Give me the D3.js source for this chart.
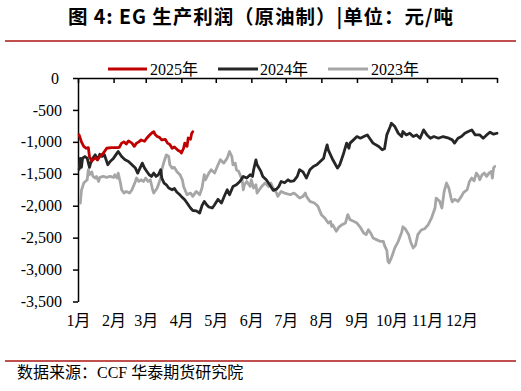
<!DOCTYPE html>
<html>
<head>
<meta charset="utf-8">
<script src="https://cdn.jsdelivr.net/npm/d3@7"></script>
<style>
  html, body { margin: 0; padding: 0; background: #fff; }
  svg { display: block; }
</style>
</head>
<body>
<svg id="chart" width="521" height="391"></svg>
<script>
// ---------------- DATA ----------------
const titleText = "图 4: EG 生产利润（原油制）|单位：元/吨";
const sourceText = "数据来源：CCF 华泰期货研究院";
const seriesNames = ["2025年", "2024年", "2023年"];
const monthLabels = ["1月","2月","3月","4月","5月","6月","7月","8月","9月","10月","11月","12月"];
const monthStartDays = [0, 31, 59, 90, 120, 151, 181, 212, 243, 273, 304, 334, 365];
const yTickValues = [0, -500, -1000, -1500, -2000, -2500, -3000, -3500];

// [day of year, 元/吨]
const data2025 = [[1,-890],[3,-1000],[5,-1070],[7,-1100],[9,-1090],[10,-1230],[12,-1300],[15,-1250],[17,-1280],[19,-1230],[22,-1180],[25,-1100],[29,-1090],[34,-1090],[36,-1085],[38,-1020],[40,-1000],[42,-1035],[44,-985],[47,-1020],[49,-1070],[51,-1020],[53,-1000],[55,-970],[58,-990],[60,-940],[62,-900],[64,-865],[66,-840],[67,-880],[69,-915],[71,-930],[73,-970],[76,-960],[78,-1020],[80,-1040],[82,-1100],[84,-1080],[87,-1130],[89,-1150],[90,-1175],[92,-1100],[93,-1020],[95,-1070],[96,-940],[98,-960],[99,-870],[100,-840]];

const data2024 = [[1,-1430],[2,-1260],[3,-1400],[4,-1255],[6,-1230],[8,-1255],[10,-1400],[11,-1333],[13,-1255],[15,-1203],[17,-1281],[19,-1193],[21,-1229],[23,-1203],[25,-1307],[26,-1359],[28,-1307],[31,-1255],[34,-1177],[35,-1151],[38,-1229],[41,-1281],[44,-1307],[47,-1359],[50,-1411],[52,-1489],[54,-1411],[56,-1333],[58,-1411],[60,-1463],[62,-1515],[64,-1541],[66,-1489],[68,-1541],[70,-1515],[72,-1437],[73,-1567],[75,-1645],[77,-1672],[79,-1723],[82,-1750],[84,-1730],[86,-1786],[88,-1817],[90,-1854],[93,-1906],[95,-1958],[98,-2036],[100,-2075],[103,-2080],[106,-2114],[108,-2000],[110,-1932],[112,-1984],[114,-2020],[117,-2036],[119,-1984],[122,-1900],[125,-1958],[128,-1828],[130,-1750],[132,-1828],[135,-1698],[138,-1672],[141,-1620],[144,-1541],[147,-1567],[150,-1515],[152,-1541],[153,-1437],[155,-1281],[156,-1359],[159,-1450],[161,-1541],[164,-1594],[167,-1672],[170,-1760],[173,-1740],[175,-1698],[177,-1620],[180,-1640],[183,-1594],[185,-1620],[188,-1610],[191,-1541],[193,-1437],[196,-1470],[199,-1567],[202,-1437],[205,-1385],[208,-1360],[211,-1307],[214,-1255],[215,-1177],[217,-1047],[218,-1125],[220,-1203],[222,-1281],[226,-1411],[228,-1359],[231,-1203],[234,-1020],[236,-1100],[237,-1020],[240,-969],[243,-917],[246,-943],[249,-917],[252,-891],[254,-943],[257,-1020],[262,-1073],[265,-1125],[267,-1109],[269,-891],[272,-760],[273,-708],[276,-760],[279,-865],[282,-917],[283,-838],[286,-891],[289,-865],[292,-917],[295,-891],[298,-943],[301,-813],[304,-891],[307,-943],[310,-917],[314,-943],[318,-917],[323,-943],[326,-969],[328,-1020],[331,-943],[334,-917],[337,-865],[340,-838],[343,-813],[346,-891],[350,-891],[353,-943],[356,-891],[359,-849],[362,-880],[365,-865]];

const data2023 = [[2,-1958],[3,-1760],[5,-1645],[8,-1594],[9,-1437],[10,-1515],[12,-1470],[13,-1541],[15,-1567],[16,-1541],[18,-1620],[19,-1557],[22,-1541],[25,-1557],[28,-1541],[31,-1557],[32,-1515],[34,-1567],[35,-1489],[37,-1645],[38,-1750],[40,-1802],[42,-1776],[45,-1802],[47,-1750],[50,-1620],[51,-1567],[53,-1620],[55,-1594],[57,-1620],[59,-1567],[61,-1620],[63,-1594],[65,-1750],[66,-1802],[69,-1723],[71,-1620],[72,-1567],[73,-1437],[75,-1307],[77,-1203],[79,-1229],[80,-1359],[82,-1411],[84,-1400],[86,-1463],[89,-1520],[91,-1600],[92,-1698],[95,-1828],[98,-1802],[100,-1854],[103,-1776],[106,-1828],[108,-1723],[110,-1515],[111,-1594],[114,-1489],[116,-1437],[119,-1489],[122,-1359],[124,-1281],[127,-1333],[130,-1255],[132,-1151],[134,-1229],[135,-1359],[137,-1333],[138,-1437],[140,-1463],[143,-1594],[144,-1750],[145,-1672],[147,-1620],[150,-1698],[151,-1594],[153,-1723],[155,-1672],[156,-1802],[158,-1750],[160,-1698],[163,-1645],[166,-1698],[168,-1645],[170,-1723],[173,-1802],[174,-1854],[177,-1776],[180,-1802],[185,-1828],[188,-1802],[190,-1828],[193,-1880],[196,-1854],[198,-1802],[199,-1854],[202,-1932],[206,-1958],[209,-2010],[212,-2140],[215,-2192],[218,-2271],[220,-2245],[221,-2323],[222,-2300],[225,-2401],[227,-2340],[230,-2297],[233,-2270],[235,-2140],[237,-2219],[240,-2245],[243,-2271],[246,-2340],[249,-2430],[251,-2453],[253,-2375],[255,-2430],[257,-2505],[260,-2531],[263,-2557],[266,-2557],[267,-2620],[269,-2700],[270,-2870],[271,-2896],[273,-2817],[276,-2660],[279,-2557],[282,-2415],[283,-2330],[285,-2360],[288,-2450],[290,-2580],[292,-2661],[294,-2620],[296,-2453],[299,-2380],[302,-2360],[305,-2300],[308,-2192],[311,-2036],[312,-1880],[315,-1930],[317,-2036],[319,-1776],[321,-1645],[323,-1720],[325,-1880],[326,-1940],[328,-1900],[331,-1932],[334,-1854],[336,-1790],[339,-1750],[341,-1620],[343,-1567],[345,-1610],[347,-1489],[349,-1540],[350,-1594],[352,-1515],[354,-1489],[356,-1540],[358,-1489],[360,-1463],[361,-1567],[362,-1411],[363,-1385]];

const seriesColors = ["#c00000", "#262626", "#a6a6a6"];

// ---------------- CHART ----------------
const svg = d3.select("#chart");
svg.append("rect").attr("width", 521).attr("height", 391).attr("fill", "#fff");

const x = d3.scaleLinear().domain([0, 365]).range([78, 497]);
const y = d3.scaleLinear().domain([-3500, 0]).range([301.5, 78]);

const serif = "'Liberation Serif', 'Times New Roman', 'Noto Sans CJK SC', serif";
const cjkBold = "'Noto Sans CJK SC', sans-serif";

// Title
svg.append("text")
  .attr("x", 68).attr("y", 24)
  .attr("font-family", cjkBold).attr("font-weight", "bold")
  .attr("font-size", 19.5).attr("fill", "#000")
  .attr("textLength", 385).attr("lengthAdjust", "spacing")
  .text(titleText);

// separator lines
[41, 361].forEach(yy => {
  svg.append("line").attr("x1", 5).attr("x2", 516).attr("y1", yy).attr("y2", yy)
    .attr("stroke", "#c0504d").attr("stroke-width", 2);
});

// source
svg.append("text")
  .attr("x", 17).attr("y", 378)
  .attr("font-family", serif).attr("font-size", 16).attr("fill", "#000")
  .text(sourceText);

// Y axis
const yAxis = svg.append("g").attr("transform", "translate(78,0)")
  .call(d3.axisLeft(y).tickValues(yTickValues).tickSize(5).tickSizeOuter(0).tickPadding(11)
    .tickFormat(d => d === 0 ? "0" : d3.format(",")(d).replace("−", "-")));
yAxis.select(".domain").attr("stroke", "#000").attr("stroke-width", 1.5);
yAxis.selectAll(".tick line").attr("stroke", "#000").attr("stroke-width", 1.5);
yAxis.selectAll(".tick text").attr("font-family", serif).attr("font-size", 16).attr("fill", "#000")
  .attr("dx", d => d === 0 ? -3 : 0);

// X axis (ticks at value 0, top)
const xAxis = svg.append("g").attr("transform", `translate(0,${y(0)})`)
  .call(d3.axisBottom(x).tickValues(monthStartDays).tickSize(5).tickSizeOuter(0).tickFormat(""));
xAxis.select(".domain").attr("stroke", "#000").attr("stroke-width", 1.5);
xAxis.selectAll(".tick line").attr("stroke", "#000").attr("stroke-width", 1.5);

// month labels at bottom
const xLab = svg.append("g").attr("transform", `translate(0,${y(-3500)})`)
  .call(d3.axisBottom(x).tickValues(monthStartDays.slice(0, 12)).tickSize(0).tickPadding(13)
    .tickFormat((d, i) => monthLabels[i]));
xLab.select(".domain").remove();
xLab.selectAll(".tick text").attr("font-family", serif).attr("font-size", 16).attr("fill", "#000");

// lines
const line = d3.line().x(d => x(d[0])).y(d => y(d[1]));
const allSeries = [data2025, data2024, data2023];
[2, 1, 0].forEach(i => {
  svg.append("path").datum(allSeries[i])
    .attr("fill", "none").attr("stroke", seriesColors[i])
    .attr("stroke-width", 2.8).attr("stroke-linejoin", "round").attr("stroke-linecap", "round")
    .attr("d", line);
});

// legend
const legendItems = [
  { x1: 108, x2: 147, tx: 150 },
  { x1: 218, x2: 258, tx: 260 },
  { x1: 328, x2: 368, tx: 371 }
];
legendItems.forEach((it, i) => {
  svg.append("line").attr("x1", it.x1).attr("x2", it.x2).attr("y1", 69).attr("y2", 69)
    .attr("stroke", seriesColors[i]).attr("stroke-width", 2.8);
  svg.append("text").attr("x", it.tx).attr("y", 74.5)
    .attr("font-family", serif).attr("font-size", 16).attr("fill", "#000")
    .text(seriesNames[i]);
});
</script>
</body>
</html>
